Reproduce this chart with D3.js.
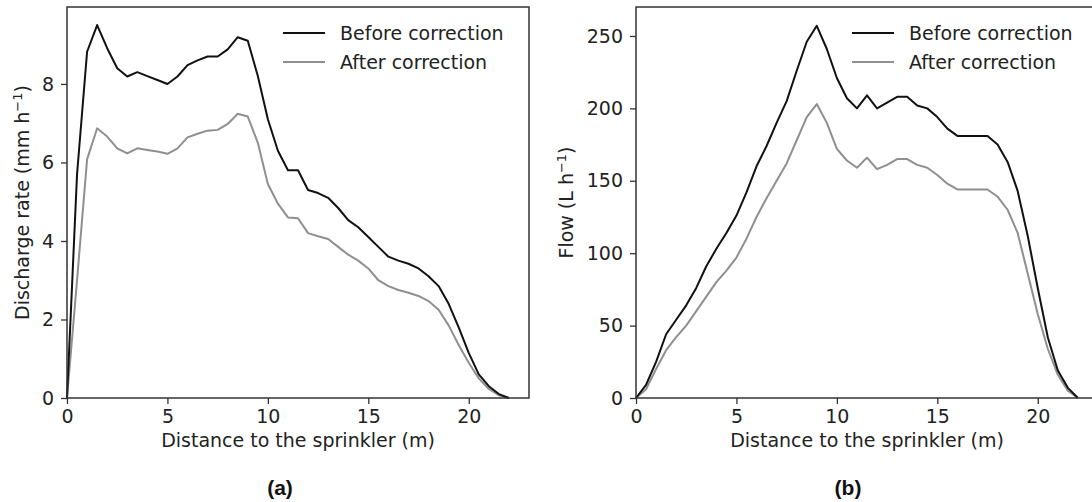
<!DOCTYPE html>
<html>
<head>
<meta charset="utf-8">
<script src="https://cdn.jsdelivr.net/npm/d3@7"></script>
<style>
  body { margin: 0; background: #fff; }
  svg { display: block; }
  .tick text { font-family: "DejaVu Sans", sans-serif; font-size: 19px; fill: #222; }
</style>
</head>
<body>
<div id="chart"></div>
<script>
// distances (m), every 0.5 m
const distance = d3.range(0, 22.01, 0.5);

// (a) discharge rate, mm h^-1
const rateBefore = [0, 5.7, 8.82, 9.5, 8.91, 8.4, 8.19, 8.3, 8.2, 8.1, 8.0, 8.19, 8.48, 8.6, 8.7, 8.7,
  8.88, 9.19, 9.1, 8.2, 7.1, 6.3, 5.8, 5.8, 5.3, 5.22, 5.1, 4.84, 4.53, 4.35, 4.1, 3.85, 3.6, 3.5,
  3.42, 3.3, 3.1, 2.85, 2.4, 1.8, 1.15, 0.6, 0.3, 0.1, 0];
const rateAfter = [0, 3.0, 6.08, 6.87, 6.66, 6.36, 6.23, 6.36, 6.32, 6.28, 6.22, 6.36, 6.64, 6.73, 6.81, 6.83,
  6.98, 7.24, 7.17, 6.5, 5.45, 4.95, 4.6, 4.58, 4.2, 4.12, 4.05, 3.85, 3.65, 3.5, 3.3, 3.0, 2.85, 2.75,
  2.68, 2.6, 2.47, 2.25, 1.85, 1.35, 0.9, 0.5, 0.23, 0.07, 0];

// (b) flow, L h^-1
const flowBefore = [0, 9, 25, 44, 54, 64, 76, 91, 103, 114, 126, 142, 160, 174, 190, 205,
  226, 246, 257, 241, 221, 207, 200, 209, 200, 204, 208, 208, 202, 200, 194, 186, 181, 181,
  181, 181, 175, 163, 143, 112, 76, 42, 19, 7, 0];
const flowAfter = [0, 6, 20, 33, 42, 50, 60, 70, 80, 88, 97, 110, 125, 138, 150, 162,
  178, 194, 203, 190, 172, 164, 159, 166, 158, 161, 165, 165, 161, 159, 154, 148, 144, 144,
  144, 144, 139, 130, 114, 86, 58, 34, 16, 5, 0];

const seriesNames = ['Before correction', 'After correction'];
const seriesColors = ['#111111', '#8f8f8f'];

const xTicks = [0, 5, 10, 15, 20];
const rateTicks = [0, 2, 4, 6, 8];
const flowTicks = [0, 50, 100, 150, 200, 250];

const W = 1092, H = 502;
const svg = d3.select('#chart').append('svg').attr('width', W).attr('height', H);

const panels = [
  { left: 67, right: 529, yMax: 9.96, ticks: rateTicks, data: [rateBefore, rateAfter],
    ylabel: ['Discharge rate (mm h', ')'], ylabelX: 22, caption: '(a)', captionX: 280 },
  { left: 636, right: 1098, yMax: 270, ticks: flowTicks, data: [flowBefore, flowAfter],
    ylabel: ['Flow (L h', ')'], ylabelX: 566, caption: '(b)', captionX: 848 }
];
const plotTop = 7, plotBottom = 398;

panels.forEach(p => {
  const x = d3.scaleLinear().domain([0, 23]).range([p.left, p.right]);
  const y = d3.scaleLinear().domain([0, p.yMax]).range([plotBottom, plotTop]);
  const g = svg.append('g');

  const line = d3.line().x((d, i) => x(distance[i])).y(d => y(d));
  // draw gray first so black sits on top
  [1, 0].forEach(k => {
    g.append('path')
      .datum(p.data[k])
      .attr('fill', 'none')
      .attr('stroke', seriesColors[k])
      .attr('stroke-width', 2)
      .attr('stroke-linejoin', 'round')
      .attr('d', line);
  });

  // frame
  g.append('rect')
    .attr('x', p.left).attr('y', plotTop)
    .attr('width', p.right - p.left).attr('height', plotBottom - plotTop)
    .attr('fill', 'none').attr('stroke', '#333').attr('stroke-width', 1.5);

  g.append('g')
    .attr('transform', `translate(0,${plotBottom})`)
    .call(d3.axisBottom(x).tickValues(xTicks).tickSize(6).tickPadding(6))
    .call(a => a.select('.domain').remove())
    .call(a => a.selectAll('line').attr('stroke', '#333').attr('stroke-width', 1.3));

  g.append('g')
    .attr('transform', `translate(${p.left},0)`)
    .call(d3.axisLeft(y).tickValues(p.ticks).tickSize(6).tickPadding(7))
    .call(a => a.select('.domain').remove())
    .call(a => a.selectAll('line').attr('stroke', '#333').attr('stroke-width', 1.3));

  // axis labels
  const cx = (p.left + p.right) / 2;
  g.append('text')
    .attr('x', cx).attr('y', 447)
    .attr('text-anchor', 'middle')
    .attr('font-family', 'DejaVu Sans, sans-serif').attr('font-size', 19).attr('fill', '#222')
    .text('Distance to the sprinkler (m)');

  const yl = g.append('text')
    .attr('transform', `translate(${p.ylabelX + 7},${(plotTop + plotBottom) / 2}) rotate(-90)`)
    .attr('text-anchor', 'middle')
    .attr('font-family', 'DejaVu Sans, sans-serif').attr('font-size', 19).attr('fill', '#222');
  yl.append('tspan').text(p.ylabel[0]);
  yl.append('tspan').attr('dy', -7).attr('font-size', 13).text('\u22121');
  yl.append('tspan').attr('dy', 7).text(p.ylabel[1]);

  // legend
  seriesNames.forEach((name, k) => {
    const ly = 33 + k * 29;
    g.append('line')
      .attr('x1', p.left + 216).attr('x2', p.left + 258)
      .attr('y1', ly).attr('y2', ly)
      .attr('stroke', seriesColors[k]).attr('stroke-width', 2);
    g.append('text')
      .attr('x', p.left + 273).attr('y', ly + 7)
      .attr('font-family', 'DejaVu Sans, sans-serif').attr('font-size', 19).attr('fill', '#222')
      .text(name);
  });

  // panel caption
  g.append('text')
    .attr('x', p.captionX).attr('y', 495)
    .attr('text-anchor', 'middle')
    .attr('font-family', 'Liberation Sans, Arial, sans-serif').attr('font-size', 21)
    .attr('font-weight', 'bold').attr('fill', '#111')
    .text(p.caption);
});
</script>
</body>
</html>
